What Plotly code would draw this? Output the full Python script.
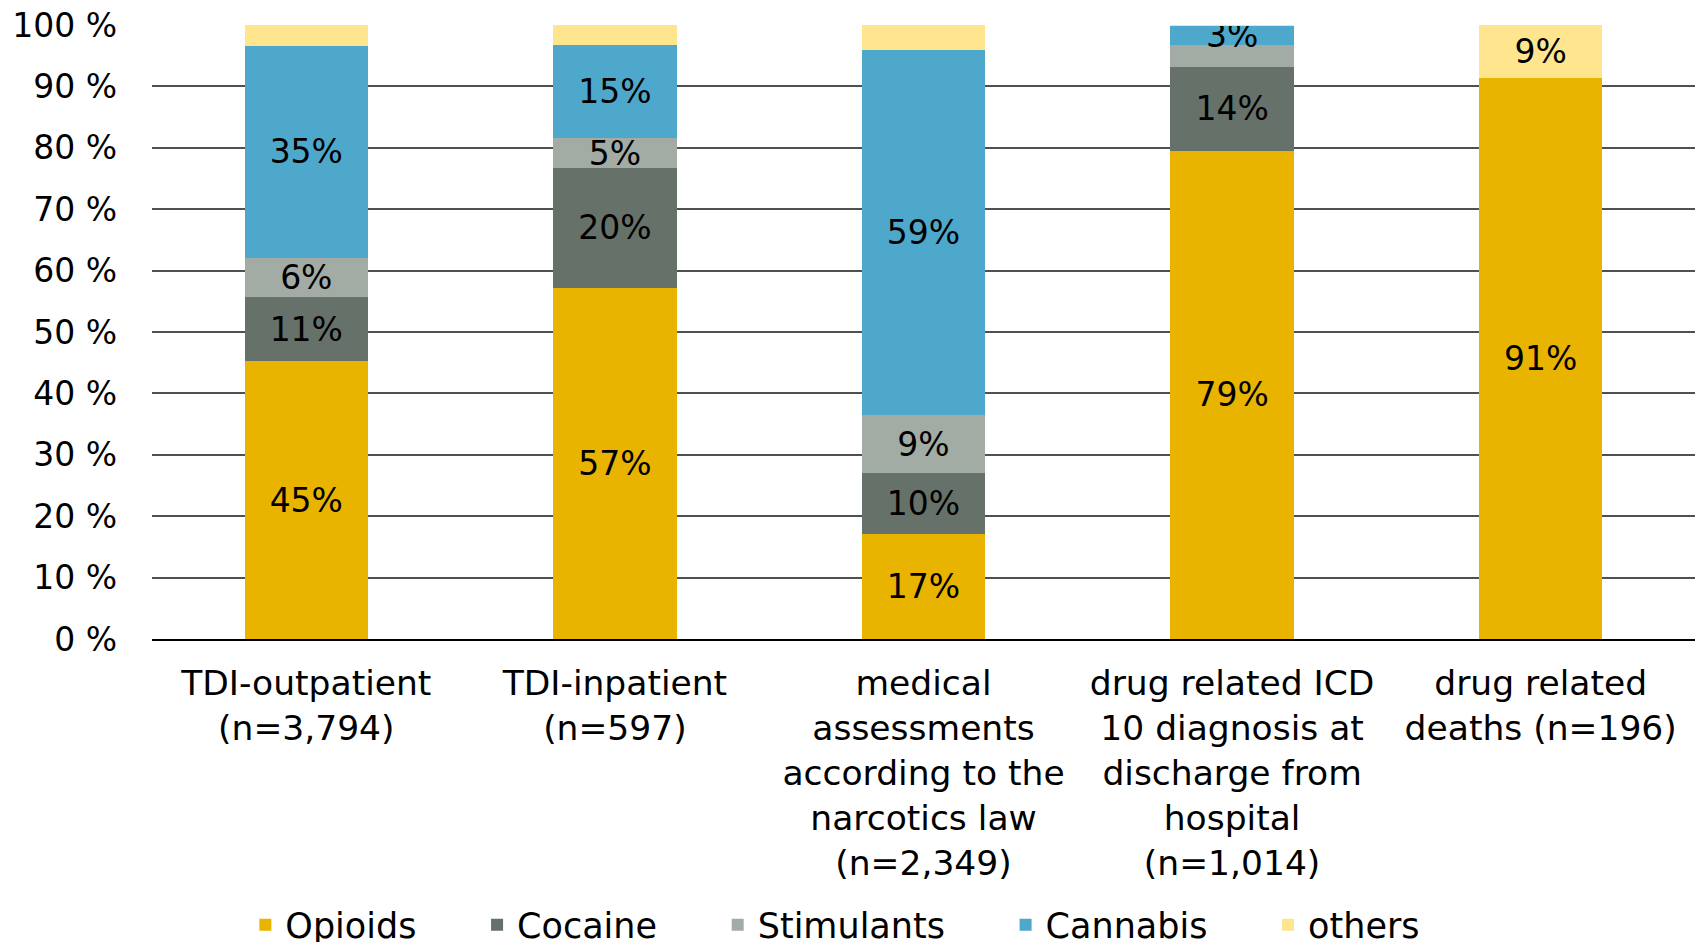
import plotly.graph_objects as go

categories = [
    "TDI-outpatient<br>(n=3,794)",
    "TDI-inpatient<br>(n=597)",
    "medical<br>assessments<br>according to the<br>narcotics law<br>(n=2,349)",
    "drug related ICD<br>10 diagnosis at<br>discharge from<br>hospital<br>(n=1,014)",
    "drug related<br>deaths (n=196)",
]

series_names = ["Opioids", "Cocaine", "Stimulants", "Cannabis", "others"]
opioids = [45.2, 57.2, 17.1, 79.5, 91.3]
cocaine = [10.5, 19.5, 9.9, 13.7, 0]
stimulants = [6.4, 4.9, 9.5, 3.5, 0]
cannabis = [34.5, 15.2, 59.4, 3.2, 0]
others = [3.4, 3.2, 4.1, 0.1, 8.7]

labels_opioids = ["45%", "57%", "17%", "79%", "91%"]
labels_cocaine = ["11%", "20%", "10%", "14%", ""]
labels_stimulants = ["6%", "5%", "9%", "", ""]
labels_cannabis = ["35%", "15%", "59%", "3%", ""]
labels_others = ["", "", "", "", "9%"]

y_ticks = [0, 10, 20, 30, 40, 50, 60, 70, 80, 90, 100]
y_ticktext = [f"{v} %" for v in y_ticks]

colors = ["#E8B400", "#66716A", "#A3ABA5", "#4EA8CB", "#FEE58E"]
values = [opioids, cocaine, stimulants, cannabis, others]
labels = [labels_opioids, labels_cocaine, labels_stimulants, labels_cannabis, labels_others]

FONT = "DejaVu Sans"
PAD = "\u00a0" * 5

fig = go.Figure()
for name, vals, lab, col in zip(series_names, values, labels, colors):
    fig.add_trace(go.Bar(
        name=name + PAD, x=categories, y=vals, text=lab,
        marker=dict(color=col, line=dict(width=0)),
        textposition="inside", insidetextanchor="middle", textangle=0,
        constraintext="none",
        textfont=dict(family=FONT, size=33, color="black"),
        hovertemplate=name + ": %{y}<extra></extra>",
    ))

fig.update_layout(
    width=1698, height=942,
    barmode="stack", bargap=0.6,
    margin=dict(l=152, r=3, t=25, b=303, autoexpand=False),
    paper_bgcolor="white", plot_bgcolor="white",
    font=dict(family=FONT, size=34, color="black"),
    showlegend=True,
    legend=dict(orientation="h", x=0.0605, xanchor="left",
                yref="container", y=0.018, yanchor="middle",
                font=dict(family=FONT, size=35, color="black"),
                traceorder="normal", itemwidth=30),
    xaxis=dict(showgrid=False, showline=True, linecolor="black", linewidth=2,
               tickfont=dict(family=FONT, size=34.5, color="black"),
               ticks="", ticklabelstandoff=13, automargin=False),
    yaxis=dict(range=[0, 100], tickmode="array", tickvals=y_ticks, ticktext=y_ticktext,
               showgrid=True, gridcolor="#505050", gridwidth=1.5,
               zeroline=False, showline=False, automargin=False,
               tickfont=dict(family=FONT, size=33, color="black"),
               ticklabelstandoff=34),
)

fig.write_html("out.html", config={"displayModeBar": False},
               post_script="document.body.style.margin='0';document.body.style.overflow='hidden';")
